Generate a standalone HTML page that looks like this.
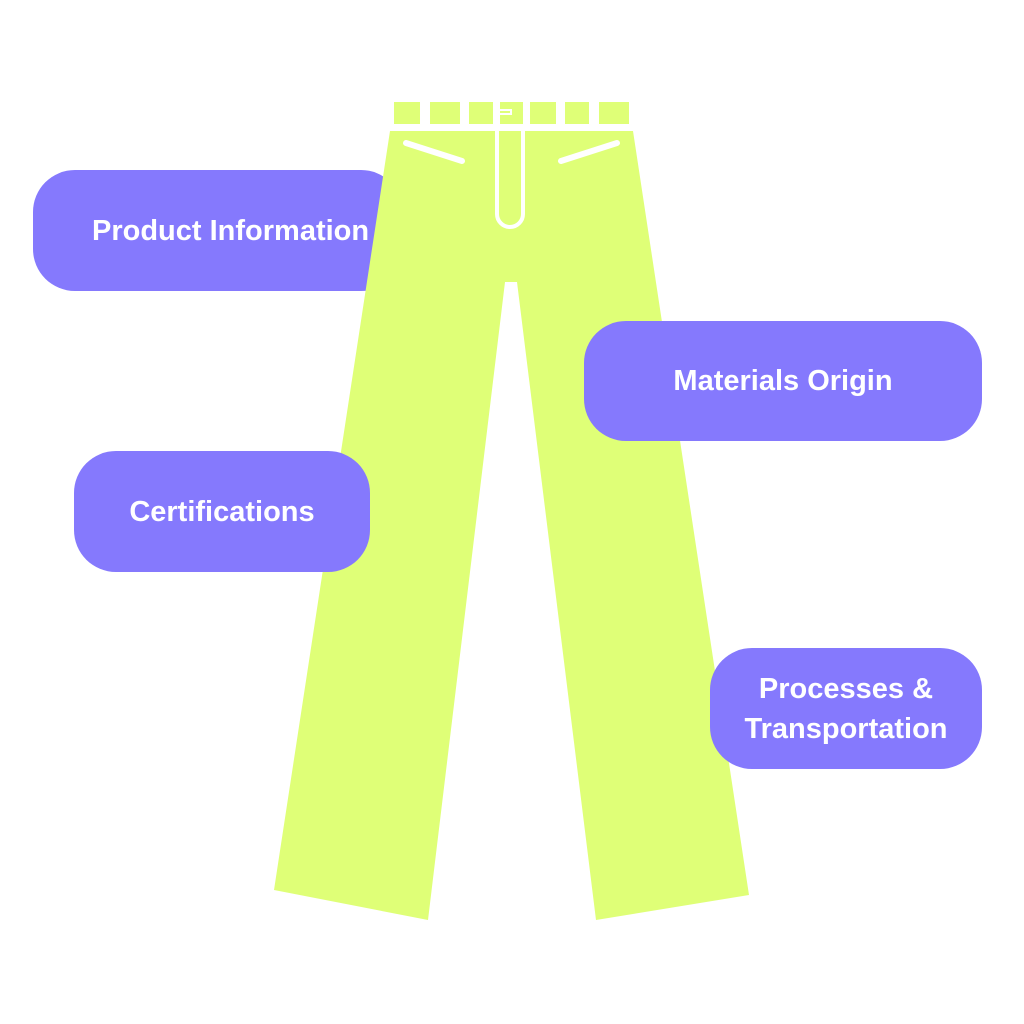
<!DOCTYPE html>
<html><head><style>
body{margin:0;width:1024px;height:1024px;background:#fff;position:relative;overflow:hidden;font-family:"Liberation Sans",sans-serif}
.p{position:absolute;background:#8579fd;color:#fff;font-weight:bold;font-size:29px;display:flex;align-items:center;justify-content:center;text-align:center;border-radius:42px;line-height:40px;white-space:nowrap}
svg{position:absolute;left:0;top:0}
</style></head><body>
<div class="p" style="left:33px;top:170px;width:370px;height:121px;justify-content:flex-start;padding-left:59px;box-sizing:border-box">Product Information</div>
<svg width="1024" height="1024">
<g fill="#dfff77">
<rect x="394" y="102" width="26" height="22"/><rect x="430" y="102" width="30" height="22"/><rect x="469" y="102" width="24" height="22"/><rect x="500" y="102" width="23" height="22"/><rect x="530" y="102" width="26" height="22"/><rect x="565" y="102" width="24" height="22"/><rect x="599" y="102" width="30" height="22"/>
<polygon points="390,131 633,131 749,895 596,920 517,282 505,282 428,920 274,890"/>
</g>
<path d="M500,110 H511 V114 H500" fill="none" stroke="#fff" stroke-width="2"/>
<g stroke="#fff" stroke-width="6" stroke-linecap="round" fill="none">
<line x1="406" y1="143" x2="462" y2="161"/><line x1="561" y1="161" x2="617" y2="143"/>
<path d="M497,131 V214 A13,13 0 0 0 523,214 V131" stroke-width="4"/>
</g>
</svg>
<div class="p" style="left:584px;top:321px;width:398px;height:120px">Materials Origin</div>
<div class="p" style="left:74px;top:451px;width:296px;height:121px">Certifications</div>
<div class="p" style="left:710px;top:648px;width:272px;height:121px;padding-left:0">Processes &amp;<br>Transportation</div>
</body></html>
